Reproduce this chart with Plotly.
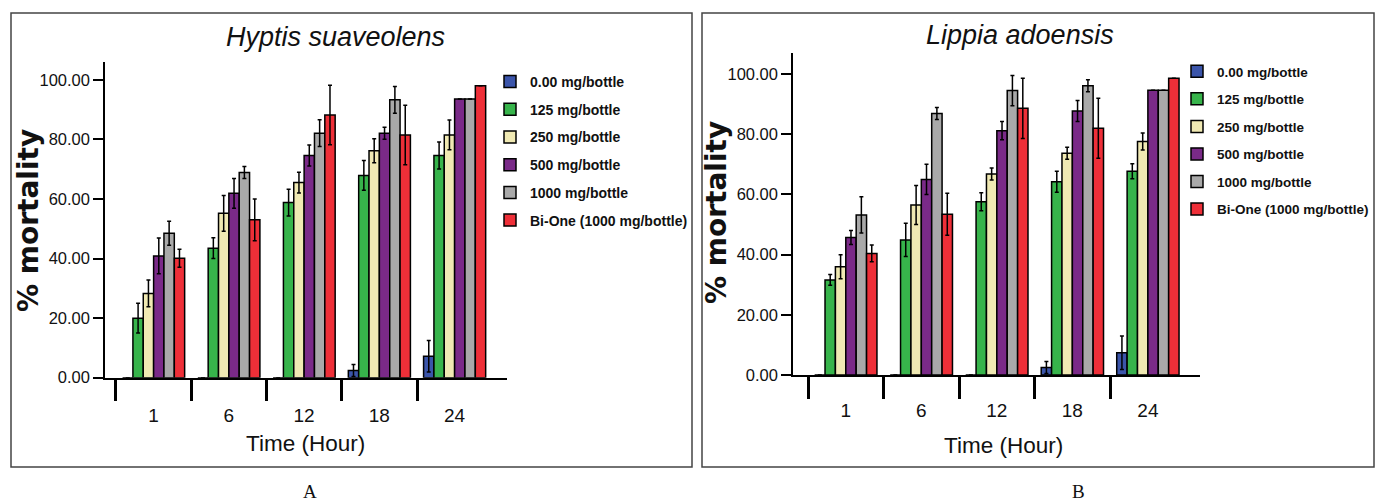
import plotly.graph_objects as go

# ---------------- data ----------------
times = ["1", "6", "12", "18", "24"]
series_names = ["0.00 mg/bottle", "125 mg/bottle", "250 mg/bottle",
                "500 mg/bottle", "1000 mg/bottle", "Bi-One (1000 mg/bottle)"]
series_colors = ["#3b55aa", "#37b44b", "#f0e9b3", "#7a2a88", "#a9a9a9", "#ee2f38"]

# Hyptis suaveolens (% mortality, mean and error)
hyptis_blue = [0, 0, 0, 2.4, 7.2]
hyptis_green = [20.0, 43.5, 58.8, 67.9, 74.6]
hyptis_beige = [28.3, 55.2, 65.5, 76.2, 81.5]
hyptis_purple = [40.9, 61.9, 74.6, 82.1, 93.6]
hyptis_gray = [48.5, 68.9, 82.1, 93.3, 93.6]
hyptis_red = [40.1, 53.0, 88.2, 81.5, 98.0]
hyptis_err_blue = [0, 0, 0, 2.0, 5.3]
hyptis_err_green = [5.0, 3.5, 4.5, 5.0, 4.5]
hyptis_err_beige = [4.5, 6.0, 3.5, 4.0, 5.0]
hyptis_err_purple = [6.0, 5.0, 3.5, 2.0, 0]
hyptis_err_gray = [4.0, 2.0, 4.5, 4.5, 0]
hyptis_err_red = [3.0, 7.0, 10.0, 10.0, 0]

# Lippia adoensis
lippia_blue = [0, 0, 0, 2.5, 7.4]
lippia_green = [31.6, 44.9, 57.6, 64.2, 67.7]
lippia_beige = [36.0, 56.5, 66.8, 73.7, 77.6]
lippia_purple = [45.7, 65.0, 81.2, 87.7, 94.6]
lippia_gray = [53.2, 86.9, 94.5, 96.1, 94.6]
lippia_red = [40.4, 53.4, 88.6, 82.0, 98.6]
lippia_err_blue = [0, 0, 0, 2.0, 5.6]
lippia_err_green = [1.8, 5.5, 3.0, 3.5, 2.5]
lippia_err_beige = [4.0, 6.5, 2.0, 2.0, 2.8]
lippia_err_purple = [2.3, 5.0, 3.0, 3.5, 0]
lippia_err_gray = [6.0, 2.0, 5.0, 2.0, 0]
lippia_err_red = [2.8, 7.0, 10.0, 10.0, 0]

y_ticks = [0, 20, 40, 60, 80, 100]

# ---------------- figure ----------------
W, H = 1376, 504
SANS = "Liberation Sans, Arial, sans-serif"

fig = go.Figure()
xpos = list(range(len(times)))

panels = [
    ([hyptis_blue, hyptis_green, hyptis_beige, hyptis_purple, hyptis_gray, hyptis_red],
     [hyptis_err_blue, hyptis_err_green, hyptis_err_beige, hyptis_err_purple, hyptis_err_gray, hyptis_err_red],
     "x", "y", "legend", "A"),
    ([lippia_blue, lippia_green, lippia_beige, lippia_purple, lippia_gray, lippia_red],
     [lippia_err_blue, lippia_err_green, lippia_err_beige, lippia_err_purple, lippia_err_gray, lippia_err_red],
     "x2", "y2", "legend2", "B"),
]
for vals, errs, xa, ya, lg, tag in panels:
    for i, (name, color, v, e) in enumerate(zip(series_names, series_colors, vals, errs)):
        fig.add_trace(go.Bar(
            x=xpos, y=v, name=name, xaxis=xa, yaxis=ya, legend=lg,
            legendgroup=f"{tag}{i}",
            marker=dict(color=color, line=dict(color="black", width=1.5)),
            error_y=dict(type="data", array=e, visible=True, color="black",
                         thickness=1.5, width=2),
        ))

def px_x(p):
    return p / W

def px_y(p):
    return 1 - p / H

bound_vals = [-0.5, 0.5, 1.5, 2.5, 3.5]
common_x = dict(showgrid=False, zeroline=False, showline=True, linecolor="black",
                linewidth=1.5, tickvals=bound_vals, ticktext=[""] * 5,
                ticks="outside", ticklen=22, tickwidth=2.5, tickcolor="black")
common_y = dict(showgrid=False, zeroline=False, showline=True, linecolor="black",
                linewidth=1.5, tickvals=y_ticks, tickformat=".2f",
                ticks="outside", ticklen=10, tickwidth=1.5, tickcolor="black",
                tickfont=dict(family=SANS, size=16.5, color="#111"))
lab_x = dict(showgrid=False, zeroline=False, showline=False, tickvals=xpos,
             ticktext=times, ticks="outside", tickcolor="rgba(0,0,0,0)",
             tickfont=dict(family=SANS, size=19, color="#111"))
leg_font = dict(family=SANS, size=14, color="#111", weight="bold")
leg_font2 = dict(family=SANS, size=13.5, color="#111", weight="bold")

fig.update_layout(
    width=W, height=H, margin=dict(l=0, r=0, t=0, b=0, autoexpand=False),
    paper_bgcolor="white", plot_bgcolor="white",
    barmode="group", bargap=0.175, bargroupgap=0,
    xaxis=dict(domain=[px_x(105), px_x(507)], range=[-0.646, 4.696], anchor="y", **common_x),
    yaxis=dict(domain=[px_y(377.7), px_y(62)], range=[0, 106], anchor="x", **common_y),
    xaxis3=dict(overlaying="x", anchor="y", range=[-0.646, 4.696], ticklen=20, **lab_x),
    xaxis2=dict(domain=[px_x(793), px_x(1200)], range=[-0.699, 4.69], anchor="y2", **common_x),
    yaxis2=dict(domain=[px_y(375), px_y(53)], range=[0, 107], anchor="x2", **common_y),
    xaxis4=dict(overlaying="x2", anchor="y2", range=[-0.699, 4.69], ticklen=18, **lab_x),
    legend=dict(x=px_x(490), y=px_y(66), xanchor="left", yanchor="top",
                bgcolor="rgba(0,0,0,0)", traceorder="grouped", tracegroupgap=6.5,
                font=leg_font),
    legend2=dict(x=px_x(1177), y=px_y(56), xanchor="left", yanchor="top",
                 bgcolor="rgba(0,0,0,0)", traceorder="grouped", tracegroupgap=7,
                 font=leg_font2),
    showlegend=True,
)

# Invisible carrier traces for label axes
fig.add_trace(go.Scatter(x=xpos, y=[None] * 5, xaxis="x3", yaxis="y", showlegend=False, hoverinfo="skip"))
fig.add_trace(go.Scatter(x=xpos, y=[None] * 5, xaxis="x4", yaxis="y2", showlegend=False, hoverinfo="skip"))

# Panel frames
for x0, x1 in [(11, 692), (702, 1374)]:
    fig.add_shape(type="rect", xref="paper", yref="paper",
                  x0=px_x(x0), x1=px_x(x1), y0=px_y(467), y1=px_y(13),
                  line=dict(color="#444", width=1.5), fillcolor="rgba(0,0,0,0)")

ann = []
ann.append(dict(text="<i>Hyptis suaveolens</i>", x=px_x(335), y=px_y(37),
                font=dict(family=SANS, size=27, color="#111")))
ann.append(dict(text="<i>Lippia adoensis</i>", x=px_x(1020), y=px_y(35),
                font=dict(family=SANS, size=27, color="#111")))
ann.append(dict(text="<b>% mortality</b>", x=px_x(28), y=px_y(221), textangle=-90,
                font=dict(family="DejaVu Sans, sans-serif", size=28, color="#111")))
ann.append(dict(text="<b>% mortality</b>", x=px_x(716), y=px_y(213), textangle=-90,
                font=dict(family="DejaVu Sans, sans-serif", size=28, color="#111")))
ann.append(dict(text="Time (Hour)", x=px_x(305), y=px_y(443),
                font=dict(family=SANS, size=22.5, color="#111")))
ann.append(dict(text="Time (Hour)", x=px_x(1003), y=px_y(445),
                font=dict(family=SANS, size=22.5, color="#111")))
ann.append(dict(text="A", x=px_x(310), y=px_y(491),
                font=dict(family="Liberation Serif, serif", size=19, color="#111")))
ann.append(dict(text="B", x=px_x(1078), y=px_y(491),
                font=dict(family="Liberation Serif, serif", size=19, color="#111")))
for a in ann:
    a.update(xref="paper", yref="paper", showarrow=False, xanchor="center", yanchor="middle")
    fig.add_annotation(**a)

fig.write_html("out.html", config={"displayModeBar": False},
               post_script="document.body.style.margin='0';document.body.style.overflow='hidden';")
